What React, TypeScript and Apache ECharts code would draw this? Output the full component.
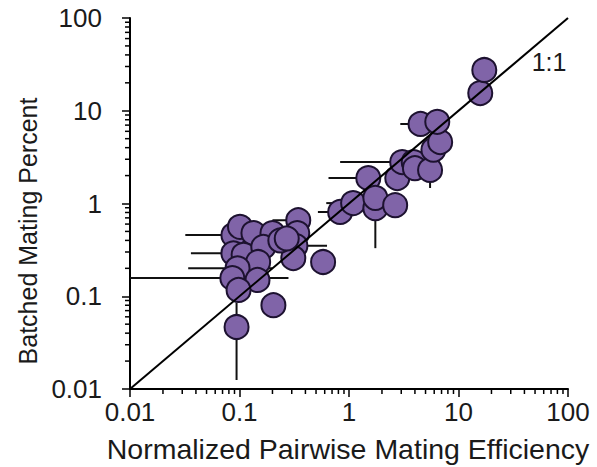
import React, { useEffect, useRef } from "react";
import * as echarts from "echarts";

// Data (log-log scatter with error bars)
const X_VALUES = [0.088, 0.101, 0.134, 0.2, 0.344, 0.337, 0.088, 0.109, 0.165, 0.148, 0.324, 0.31, 0.096, 0.086, 0.146, 0.098, 0.204, 0.094, 0.58, 0.83, 1.09, 1.5, 1.74, 1.74, 2.64, 2.76, 3.06, 3.9, 4.0, 5.5, 5.9, 6.8, 4.5, 6.4, 15.8, 17.2, 0.236, 0.27];
const Y_VALUES = [0.457, 0.56, 0.48, 0.48, 0.66, 0.48, 0.29, 0.28, 0.34, 0.234, 0.35, 0.258, 0.2, 0.157, 0.15, 0.117, 0.08, 0.0466, 0.234, 0.81, 1.01, 1.88, 0.89, 1.15, 0.96, 1.88, 2.8, 2.8, 2.4, 2.3, 3.8, 4.6, 7.2, 7.6, 15.5, 27.5, 0.4, 0.42];
// error bar ends (null = no bar on that side)
const X_LOW = [0.032, null, null, null, 0.2, null, 0.036, null, null, null, null, null, 0.034, 0.01, null, null, null, null, null, 0.52, 0.62, 0.65, null, null, null, null, 0.83, null, null, null, null, null, 2.94, null, null, null, null, null];
const X_HIGH = [0.2, null, null, null, 0.45, null, 0.2, null, null, null, 0.63, null, 0.2, 0.28, null, null, null, null, null, null, null, null, null, null, null, null, null, null, null, null, null, null, null, null, null, null, null, null];
const Y_LOW = [null, null, null, null, null, null, null, null, null, null, null, null, null, null, null, null, null, 0.0125, 0.19, null, null, null, 0.33, null, null, null, null, null, null, 1.47, null, null, null, null, null, null, null, null];
const Y_HIGH = [null, null, null, null, null, null, null, null, null, null, null, null, null, null, null, null, null, 0.085, null, null, null, null, null, null, null, null, null, null, null, null, null, null, null, null, null, null, null, null];

const TICK_LABELS = ["0.01", "0.1", "1", "10", "100"];
const DECADES = [0.01, 0.1, 1, 10];
const MINOR_MULTIPLIERS = [2, 3, 4, 5, 6, 7, 8, 9];
const IDENTITY_LINE = [[0.01, 0.01], [100, 100]];

const FONT = "'Liberation Sans', Arial, sans-serif";
const TEXT_COLOR = "#1a1a1a";

function labelFor(v: number) {
  const idx = Math.round(Math.log10(v)) + 2;
  return TICK_LABELS[idx] ?? String(v);
}

export default function App() {
  const ref = useRef<HTMLDivElement>(null);
  useEffect(() => {
    if (!ref.current) return;
    const chart = echarts.init(ref.current, null, { renderer: "svg" });

    const points = X_VALUES.map((x, i) => [x, Y_VALUES[i]]);
    const bars = X_VALUES.map((x, i) => {
      const y = Y_VALUES[i];
      return [
        x,
        y,
        X_LOW[i] ?? x,
        X_HIGH[i] ?? x,
        Y_LOW[i] ?? y,
        Y_HIGH[i] ?? y,
      ];
    });
    const minorTicks: number[][] = [];
    DECADES.forEach((d) =>
      MINOR_MULTIPLIERS.forEach((m) => {
        minorTicks.push([d * m, 0.01, 0]);
        minorTicks.push([0.01, d * m, 1]);
      })
    );

    const axisCommon = {
      type: "log" as const,
      logBase: 10,
      min: 0.01,
      max: 100,
      splitLine: { show: false },
      axisLine: { show: true, lineStyle: { color: "#000", width: 2 } },
      axisTick: { show: true, length: 8, lineStyle: { color: "#000", width: 1.5 } },
      minorTick: { show: false },
    };

    chart.setOption({
      animation: false,
      grid: { left: 130, right: 29, top: 18, bottom: 78, containLabel: false },
      xAxis: {
        ...axisCommon,
        axisLabel: {
          margin: 10,
          fontSize: 26,
          fontFamily: FONT,
          color: TEXT_COLOR,
          formatter: (v: number) => labelFor(v),
        },
      },
      yAxis: {
        ...axisCommon,
        axisLabel: {
          margin: 28,
          fontSize: 26,
          fontFamily: FONT,
          color: TEXT_COLOR,
          formatter: (v: number) => labelFor(v),
        },
      },
      graphic: [
        {
          type: "text",
          x: 28,
          y: 231,
          rotation: Math.PI / 2,
          style: {
            text: "Batched Mating Percent",
            fontSize: 25,
            fontFamily: FONT,
            fill: TEXT_COLOR,
            textAlign: "center",
            textVerticalAlign: "middle",
          },
        },
        {
          type: "text",
          x: 348,
          y: 449,
          style: {
            text: "Normalized Pairwise Mating Efficiency",
            fontSize: 28.5,
            fontFamily: FONT,
            fill: TEXT_COLOR,
            textAlign: "center",
            textVerticalAlign: "middle",
          },
        },
        {
          type: "text",
          x: 549,
          y: 62,
          style: {
            text: "1:1",
            fontSize: 25,
            fontFamily: FONT,
            fill: TEXT_COLOR,
            textAlign: "center",
            textVerticalAlign: "middle",
          },
        },
      ],
      series: [
        {
          type: "custom",
          name: "minorTicks",
          coordinateSystem: "cartesian2d",
          clip: false,
          silent: true,
          z: 1,
          data: minorTicks,
          encode: { x: 0, y: 1 },
          renderItem: (params: any, api: any) => {
            const p = api.coord([api.value(0), api.value(1)]);
            const isY = api.value(2) === 1;
            const L = 5;
            return {
              type: "line",
              shape: isY
                ? { x1: p[0] - L, y1: p[1], x2: p[0], y2: p[1] }
                : { x1: p[0], y1: p[1], x2: p[0], y2: p[1] + L },
              style: { stroke: "#000", lineWidth: 1.5 },
            };
          },
        },
        {
          type: "custom",
          name: "errorBars",
          coordinateSystem: "cartesian2d",
          clip: false,
          silent: true,
          z: 2,
          dimensions: ["x", "y", "xl", "xh", "yl", "yh"],
          encode: { x: 0, y: 1 },
          data: bars,
          renderItem: (params: any, api: any) => {
            const x = api.value(0);
            const y = api.value(1);
            const xl = api.value(2);
            const xh = api.value(3);
            const yl = api.value(4);
            const yh = api.value(5);
            const children: any[] = [];
            const style = { stroke: "#111", lineWidth: 2 };
            if (xl !== xh) {
              const a = api.coord([xl, y]);
              const b = api.coord([xh, y]);
              children.push({ type: "line", shape: { x1: a[0], y1: a[1], x2: b[0], y2: b[1] }, style });
            }
            if (yl !== yh) {
              const a = api.coord([x, yl]);
              const b = api.coord([x, yh]);
              children.push({ type: "line", shape: { x1: a[0], y1: a[1], x2: b[0], y2: b[1] }, style });
            }
            return { type: "group", children };
          },
        },
        {
          type: "scatter",
          name: "points",
          z: 3,
          symbol: "circle",
          symbolSize: 24,
          data: points,
          itemStyle: {
            color: "#8064a8",
            borderColor: "#1d1230",
            borderWidth: 2,
            opacity: 1,
          },
        },
        {
          type: "line",
          name: "1:1",
          z: 4,
          data: IDENTITY_LINE,
          showSymbol: false,
          symbol: "none",
          lineStyle: { color: "#000", width: 2 },
        },
      ],
    });
    return () => chart.dispose();
  }, []);

  return (
    <div
      ref={ref}
      style={{ position: "fixed", left: 0, top: 0, width: 597, height: 467, background: "#fff" }}
    />
  );
}
